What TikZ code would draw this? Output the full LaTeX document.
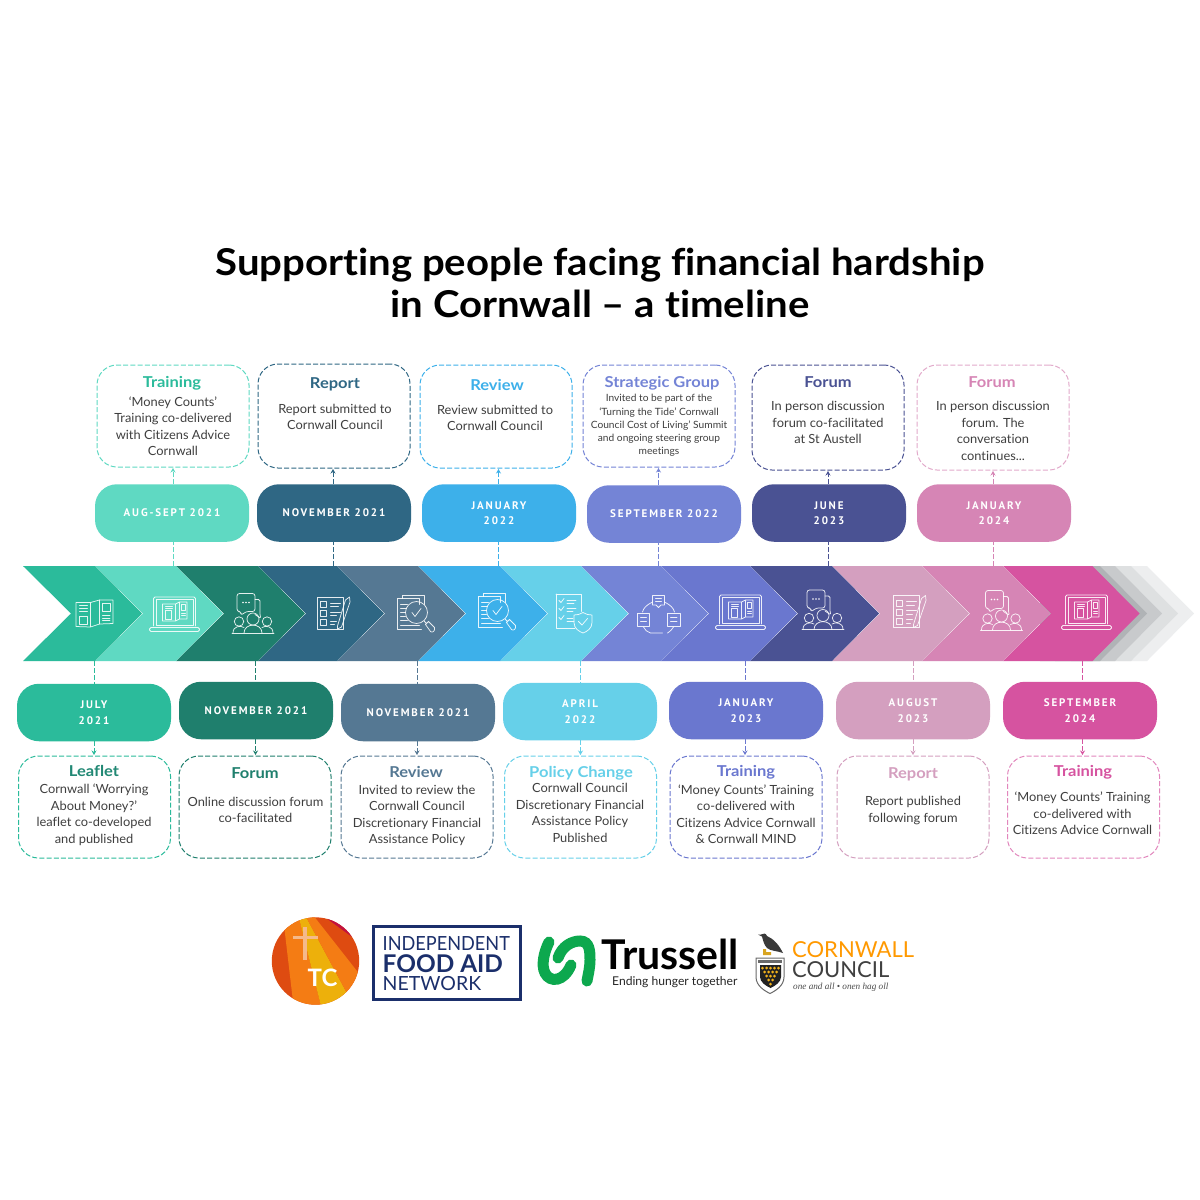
\documentclass[tikz,border=0pt]{standalone}
\usepackage{fontspec}
\setmainfont{Lato}[Ligatures=NoCommon,FakeStretch=1.02]
\newfontfamily\datefont[LetterSpace=17]{PT Sans}
\newfontfamily\mottofont{Liberation Serif}
\newfontfamily\titlefont[Ligatures=NoCommon,FakeStretch=1.085]{Lato}
\newfontfamily\headfont[Ligatures=NoCommon,FakeStretch=1.1]{Lato}
\newfontfamily\plainfont[Ligatures=NoCommon]{Lato}
\newfontfamily\indepfont[Ligatures=NoCommon,FakeStretch=.93]{Lato}
\usetikzlibrary{arrows.meta}
\definecolor{c1}{HTML}{2BBB9B}\definecolor{c2}{HTML}{5FD9C2}\definecolor{c3}{HTML}{1F7F6D}
\definecolor{c4}{HTML}{2F6784}\definecolor{c5}{HTML}{557893}\definecolor{c6}{HTML}{3DB0EA}
\definecolor{c7}{HTML}{66D0E9}\definecolor{c8}{HTML}{7484D6}\definecolor{c9}{HTML}{6A77CF}
\definecolor{c10}{HTML}{4A5293}\definecolor{c11}{HTML}{D49FBF}\definecolor{c12}{HTML}{D685B5}
\definecolor{c13}{HTML}{D653A0}\definecolor{txt}{HTML}{3F3F3F}\definecolor{ifan}{HTML}{1B2F6B}
\definecolor{lred}{HTML}{DE4B11}\definecolor{lorg}{HTML}{F47C14}\definecolor{lyel}{HTML}{EDB00B}
\definecolor{lcrim}{HTML}{C2123F}\definecolor{lcross}{HTML}{F5B98A}\definecolor{tgreen}{HTML}{0DA84E}
\definecolor{cdark}{HTML}{3A3A3A}\definecolor{cgold}{HTML}{D9A521}\definecolor{cgrey}{HTML}{6A6A6A}
\definecolor{cblack}{HTML}{222222}\definecolor{cdot}{HTML}{F2B21B}
\tikzset{
 pill/.style={fill=#1,rounded corners=22,minimum width=154,minimum height=57.5,inner sep=0,text=white,align=center,font=\datefont\bfseries\fontsize{11}{15.5}\selectfont},
 boxn/.style={draw=#1,dash pattern=on 5pt off 2.2pt,line width=1pt,rounded corners=20,minimum width=152,minimum height=102,inner sep=0,outer sep=0,fill=white},
 ttl/.style={text=#1,font=\headfont\bfseries\fontsize{15}{17}\selectfont,inner sep=0},
 body/.style={text=txt,align=center,inner sep=0,font=\fontsize{12.6}{16.5}\selectfont},
 conn/.style={draw=#1,line width=.9pt,dash pattern=on 5pt off 2pt},
 arr/.style={draw=#1,line width=.9pt,dash pattern=on 5pt off 2pt,-{Stealth[length=4.5pt,width=5pt,fill=#1]},shorten >=1pt},
 ic/.style={draw=white,line width=.75pt,line join=round,line cap=round,draw opacity=.88,fill=none},
 leaflet/.pic={\begin{scope}[ic]
  \draw (-18.5,-11)--(-4,-11)--(-4,13.5)--(-18.5,13)--cycle (-4,-11)--(5,-13.5)--(5,10.5)--(-4,13.5);
  \draw (5,-13.5)--(18.5,-13.5)--(18.5,10)--(5,10.5);
  \draw (-15,-8)--(-7,-8) (-15,-5)--(-7,-5) (-15,-2)--(-7,-2);
  \draw (-15,2.5) rectangle (-7,10.5);
  \draw (8,-10.5) rectangle (15.5,-2);
  \draw (8,2)--(15.5,2) (8,4.5)--(15.5,4.5) (8,7)--(15.5,7);
 \end{scope}},
 laptop/.pic={\begin{scope}[ic]
  \draw[rounded corners=1.5] (-21,12)--(-21,-17)--(21,-17)--(21,12);
  \draw (-18.5,11)--(-18.5,-14.5)--(18.5,-14.5)--(18.5,11)--cycle;
  \draw[rounded corners=1.5] (-25,13.5)--(25,13.5)--(25,17.5)--(-25,17.5)--cycle;
  \draw (-12,-10)--(1,-10)--(1,7)--(-12,7)--cycle (1,-10)--(5,-12)--(5,5)--(1,7) (5,-12)--(12.5,-12)--(12.5,5)--(5,5);
  \draw (-9,-4) rectangle (-3,5) (-9,-8)--(-2,-8) (-9,-6)--(-2,-6);
  \draw (7,-9.5) rectangle (11,-4) (7,-1)--(11,-1) (7,1.5)--(11,1.5);
 \end{scope}},
 people/.pic={\begin{scope}[ic]
  \draw[rounded corners=2.5] (-12,-2)--(-16,-2)--(-16,-20)--(2,-20)--(2,-2)--(-7,-2)--(-12,2)--cycle;
  \draw[rounded corners=1.5] (2,-14)--(7,-14)--(7,2)--(8,5)--(2,1);
  \fill[white] (-10,-11) circle (.9) (-7,-11) circle (.9) (-4,-11) circle (.9);
  \draw (0,5.5) circle (6);
  \draw (-14,8) circle (4.7) (14,8) circle (4.7);
  \draw (-21,19.5)--(21,19.5);
  \draw (-9,19.5) .. controls (-9,9) and (9,9) .. (9,19.5);
  \draw (-20,19.5) .. controls (-20,12) and (-12,12) .. (-9,14);
  \draw (20,19.5) .. controls (20,12) and (12,12) .. (9,14);
 \end{scope}},
 listpen/.pic={\begin{scope}[ic]
  \draw (-16.5,-16) rectangle (10,16);
  \draw (-13.5,-11.5) rectangle (-7,-5.5) (-13.5,-2.5) rectangle (-7,3.5) (-13.5,6.5) rectangle (-7,12.5);
  \draw (-3,-10)--(7,-10) (-3,-6.5)--(5,-6.5) (-3,-1)--(7,-1) (-3,2.5)--(3,2.5) (-3,8)--(3,8) (-3,11.5)--(1,11.5);
  \draw (4,13)--(12,-13)--(16,-16)--(16.5,-11)--(8,14)--(4,16)--cycle;
 \end{scope}},
 review/.pic={\begin{scope}[ic]
  \draw (-13,-15)--(-13,-18.5)--(9,-18.5)--(9,-9);
  \draw (-18.5,9)--(-18.5,-15)--(4,-15)--(4,-9) (-18.5,9)--(-18.5,16)--(6,16);
  \draw (-15,-9)--(-8,-9) (-15,-5)--(-9,-5) (-15,-1)--(-10,-1) (-15,3)--(-10,3) (-15,7)--(-8,7) (-15,12)--(4,12);
  \draw (1,-1) circle (11);
  \draw (-3.5,-1)--(-.5,3)--(5.5,-5);
  \draw (9,8)--(11,10) (10,11)--(13,8)--(19,14) .. controls (20,17) and (17,20) .. (15,18)--cycle;
 \end{scope}},
 shieldlist/.pic={\begin{scope}[ic]
  \draw (-18,-19.5)--(7,-19.5)--(7,-2) (-18,-19.5)--(-18,15)--(1,15);
  \draw (-15,-13)--(-13,-11)--(-10,-15) (-15,-5)--(-13,-3)--(-10,-7) (-15,4)--(-13,6)--(-10,2);
  \draw (-7,-13)--(2,-13) (-7,-10)--(0,-10) (-7,-5)--(2,-5) (-7,-2)--(-1,-2) (-7,5)--(-1,5) (-7,8)--(0,8);
  \draw (9,-1) .. controls (12,1) and (15,1.5) .. (18,1.5) -- (18,9) .. controls (18,15) and (13,18) .. (9,19.5) .. controls (5,18) and (0,15) .. (0,9) -- (0,1.5) .. controls (3,1.5) and (6,1) .. (9,-1) -- cycle;
  \draw (4.5,8)--(8,11.5)--(13.5,5);
 \end{scope}},
 cycleic/.pic={\begin{scope}[ic]
  \draw (-6,-18.5)--(6,-18.5)--(6,-9)--(2.5,-9)--(0,-6.5)--(-2.5,-9)--(-6,-9)--cycle;
  \draw (-3,-15.5)--(3,-15.5) (-3,-12.5)--(3,-12.5);
  \draw (-21.5,-1)--(-9,-1)--(-9,12)--(-21.5,12)--cycle;
  \draw (-18,3)--(-12,3) (-18,7)--(-12,7);
  \draw (9,-1)--(21.5,-1)--(21.5,12)--(9,12)--cycle;
  \draw (12,3)--(18.5,3) (12,7)--(18.5,7);
  \draw (-6,-12) .. controls (-12,-9) and (-15,-6) .. (-16,-2);
  \draw (6,-12) .. controls (12,-9) and (15,-6) .. (16,-2);
  \draw (-15,13) .. controls (-14,16) and (-11,18) .. (-8,19) -- (4,19);
  \draw (15,13) .. controls (14,15) and (12,17) .. (9,19);
 \end{scope}}
}
\begin{document}
\begin{tikzpicture}[x=1pt,y=-1pt]
\useasboundingbox[fill=white] (0,0) rectangle (1200,1200);
% title
\node[font=\titlefont\bfseries\fontsize{37}{42}\selectfont,text=black,align=center,inner sep=0] (title) at (600,283) {Supporting people facing financial hardship\\in Cornwall – a timeline};
% chevron band, right to left
\foreach \r/\c in {1147/EDEEEF,1131/DEE0E1,1115/C8CACC,1100/B0B3B6}{
 \definecolor{tmp}{HTML}{\c}
 \fill[tmp] (\r-60,566)--(\r,566)--(\r+47,613.5)--(\r,661)--(\r-60,661)--cycle;
}
\foreach \l/\r/\c in {1003/1092.5/c13,922/1003/c12,832/922/c11,750/832/c10,661/750/c9,581/661/c8,500/581/c7,418/500/c6,337/418/c5,258/337/c4,176/258/c3,95/176/c2,23/95/c1}{
 \fill[\c] (\l,566)--(\r,566)--(\r+47,613.5)--(\r,661)--(\l,661)--(\l+48,613.5)--cycle;
}
% icons
\pic at (94.5,613.5) {leaflet};
\pic at (174.5,614) {laptop};
\pic at (253,613.5) {people};
\pic at (333.5,613) {listpen};
\pic at (415.5,613.5) {review};
\pic at (496.5,611.5) {review};
\pic at (574,613.5) {shieldlist};
\pic at (658.5,614) {cycleic};
\pic at (740.5,612) {laptop};
\pic at (823,610) {people};
\pic at (909.5,611.5) {listpen};
\pic at (1001.5,610.5) {people};
\pic at (1086.5,612) {laptop};
% connector anchors on the band
\foreach \n/\x in {t1/173,t2/333,t3/498.5,t4/658.5,t5/828,t6/993}{\coordinate (\n) at (\x,566);}
\foreach \n/\x in {u1/94,u2/255.5,u3/417,u4/580.5,u5/745,u6/913,u7/1082.5}{\coordinate (\n) at (\x,661);}
% top pills
\node[pill=c2] (p1) at (172,513) {AUG-SEPT 2021};
\node[pill=c4] (p2) at (334,513) {NOVEMBER 2021};
\node[pill=c6] (p3) at (499,513) {JANUARY\\2022};
\node[pill=c8] (p4) at (664,514) {SEPTEMBER 2022};
\node[pill=c10] (p5) at (829,513) {JUNE\\2023};
\node[pill=c12] (p6) at (994,513) {JANUARY\\2024};
% bottom pills
\node[pill=c1] (q1) at (94,712.5) {JULY\\2021};
\node[pill=c3] (q2) at (256,710.5) {NOVEMBER 2021};
\node[pill=c5] (q3) at (418,712.5) {NOVEMBER 2021};
\node[pill=c7] (q4) at (580,711.5) {APRIL\\2022};
\node[pill=c9] (q5) at (746,710.5) {JANUARY\\2023};
\node[pill=c11] (q6) at (913,710.5) {AUGUST\\2023};
\node[pill=c13] (q7) at (1080,710.5) {SEPTEMBER\\2024};
% top boxes
\node[boxn=c2] (b1) at (173,416) {};
\node[boxn=c4,minimum height=104] (b2) at (334,416) {};
\node[boxn=c6,minimum height=103] (b3) at (496,416.5) {};
\node[boxn=c8] (b4) at (659,416) {};
\node[boxn=c10,minimum height=105] (b5) at (828,417.5) {};
\node[boxn=c12!70!white,minimum height=105] (b6) at (993,417.5) {};
% bottom boxes
\node[boxn=c1] (d1) at (94.5,807) {};
\node[boxn=c3] (d2) at (255,807) {};
\node[boxn=c5] (d3) at (417,807) {};
\node[boxn=c7] (d4) at (580.5,807) {};
\node[boxn=c9] (d5) at (746,807) {};
\node[boxn=c11] (d6) at (913,807) {};
\node[boxn=c13!70!white] (d7) at (1083.5,807) {};
% connectors top
\foreach \t/\p/\b/\c in {t1/p1/b1/c2,t2/p2/b2/c4,t3/p3/b3/c6,t4/p4/b4/c8,t5/p5/b5/c10,t6/p6/b6/c12}{
 \draw[conn=\c] (\t) -- (\t |- \p.south);
 \draw[arr=\c] (\t |- \p.north) -- (\t |- \b.south);
}
\foreach \t/\p/\b/\c in {u1/q1/d1/c1,u2/q2/d2/c3,u3/q3/d3/c5,u4/q4/d4/c7,u5/q5/d5/c9,u6/q6/d6/c11,u7/q7/d7/c13}{
 \draw[conn=\c] (\t) -- (\t |- \p.north);
 \draw[arr=\c] (\t |- \p.south) -- (\t |- \b.north);
}
% top texts
\node[ttl=c1] (tt1) at (172,383) {Training};
\node[body] (tx1) at (173,426) {‘Money Counts’\\Training co-delivered\\with Citizens Advice\\Cornwall};
\node[ttl=c4] (tt2) at (335,384.5) {Report};
\node[body] (tx2) at (335,417) {Report submitted to\\Cornwall Council};
\node[ttl=c6] (tt3) at (497,385) {Review};
\node[body] (tx3) at (495,418) {Review submitted to\\Cornwall Council};
\node[ttl=c8] (tt4) at (662,383) {Strategic Group};
\node[body,font=\fontsize{10}{13.2}\selectfont] (tx4) at (659,425.5) {Invited to be part of the\\‘Turning the Tide’ Cornwall\\Council Cost of Living’ Summit\\and ongoing steering group\\meetings};
\node[ttl=c10] (tt5) at (828,382) {Forum};
\node[body] (tx5) at (828,422.5) {In person discussion\\forum co-facilitated\\at St Austell};
\node[ttl=c12] (tt6) at (992,382) {Forum};
\node[body] (tx6) at (993,431) {In person discussion\\forum. The\\conversation\\continues...};
% bottom texts
\node[ttl=c3!85!c1] (ut1) at (94,771) {Leaflet};
\node[body] (ux1) at (94,815) {Cornwall ‘Worrying\\About Money?’\\leaflet co-developed\\and published};
\node[ttl=c3] (ut2) at (255,773) {Forum};
\node[body] (ux2) at (255.5,810) {Online discussion forum\\co-facilitated};
\node[ttl=c5] (ut3) at (416,772) {Review};
\node[body] (ux3) at (417,815.5) {Invited to review the\\Cornwall Council\\Discretionary Financial\\Assistance Policy};
\node[ttl=c7] (ut4) at (581,773) {Policy Change};
\node[body] (ux4) at (580,813) {Cornwall Council\\Discretionary Financial\\Assistance Policy\\Published};
\node[ttl=c9] (ut5) at (746,772) {Training};
\node[body] (ux5) at (746,814) {‘Money Counts’ Training\\co-delivered with\\Citizens Advice Cornwall\\\& Cornwall MIND};
\node[ttl=c11] (ut6) at (913,774) {Report};
\node[body] (ux6) at (913,810.5) {Report published\\following forum};
\node[ttl=c13] (ut7) at (1083,772) {Training};
\node[body] (ux7) at (1082.5,813.5) {‘Money Counts’ Training\\co-delivered with\\Citizens Advice Cornwall};
% TC logo
\begin{scope}
 \clip (315.5,961) circle (43.7);
 \fill[lred] (260,900) rectangle (370,1010);
 \fill[lorg] (284,925)--(298,914)--(322,1010)--(294,1010)--cycle;
 \fill[lyel] (298,914)--(322,1010)--(356,1010)--(305,915)--cycle;
 \fill[lorg] (305,915)--(356,1010)--(368,985)--(313,915)--cycle;
 \fill[lcrim] (322,915)--(370,950)--(370,915)--cycle;
 \fill[lcross] (303,927) rectangle (307,960);
 \fill[lcross] (293,935.5) rectangle (318,938.5);
\end{scope}
\node[text=white,inner sep=0,font=\plainfont\bfseries\fontsize{24}{24}\selectfont] (tc) at (322.5,977.5) {TC};
% IFAN logo
\node[draw=ifan,line width=3pt,minimum width=147,minimum height=73,inner sep=0,outer sep=0,anchor=north west] (ifanbox) at (373.5,926.5) {};
\node[text=ifan,anchor=north west,align=left,inner sep=0,font=\plainfont\fontsize{19.5}{20}\selectfont\lineskiplimit-100pt] (if1) at (382.5,936) {{\indepfont INDEPENDENT}\\[2pt]{\bfseries\fontsize{24.4}{20}\selectfont FOOD AID}\\[-2pt]NETWORK};
% Trussell logo
\draw[tgreen,line width=11pt,line cap=round] (549,942) .. controls (544,952) and (541,965) .. (545,973) .. controls (550,983) and (564,982) .. (571,965);
\draw[tgreen,line width=11pt,line cap=round] (558,958) .. controls (562,946) and (572,941) .. (580,941) .. controls (590,941) and (590,952) .. (590,960) .. controls (590,968) and (588,975) .. (587,981);
\node[text=black,anchor=west,inner sep=0,font=\plainfont\bfseries\fontsize{41}{41}\selectfont] (tr1) at (601.5,954) {Trussell};
\node[text=black!85,anchor=west,inner sep=0,font=\plainfont\fontsize{12.1}{13}\selectfont] (tr2) at (612,982) {Ending hunger together};
% Cornwall logo
\fill[cdark] (758,934.5)--(761,934.5) .. controls (763,933) and (766,933) .. (767,936) .. controls (774,939) and (779,945) .. (783,953) .. controls (778,951) and (770,951) .. (767,948) .. controls (764,945) and (763,940) .. (762,936.5)--cycle;
\fill[cgold] (763,949) rectangle (766,955) (763,952) rectangle (771,955);
\draw[cgrey,fill=white,line width=1pt] (756,958)--(784,958)--(784,977) .. controls (784,986) and (775,991) .. (770,993.5) .. controls (765,991) and (756,986) .. (756,977)--cycle;
\fill[cgrey] (758,960) rectangle (782,963);
\fill[cblack] (760,965)--(781,965)--(781,977) .. controls (781,982) and (775,986) .. (770.5,988) .. controls (766,986) and (760,982) .. (760,977)--cycle;
\foreach \x/\y in {762.5/968,766.7/968,770.5/968,774.5/968,778.5/968,764.6/972,768.6/972,772.6/972,776.6/972,766.7/976,770.5/976,774.5/976,768.6/980,772.6/980,770.5/984}{\fill[cdot] (\x,\y) circle (1.5);}
\node[text=orange!80!yellow,anchor=west,inner sep=0,font=\plainfont\fontsize{22}{22}\selectfont] (cw1) at (792,950) {CORNWALL};
\node[text=black!75,anchor=west,inner sep=0,font=\plainfont\fontsize{22}{22}\selectfont] (cw2) at (792,970) {COUNCIL};
\node[text=black!70,anchor=west,inner sep=0,font=\mottofont\itshape\fontsize{9.2}{10}\selectfont] (cw3) at (793,987) {one and all • onen hag oll};
\end{tikzpicture}
\end{document}
